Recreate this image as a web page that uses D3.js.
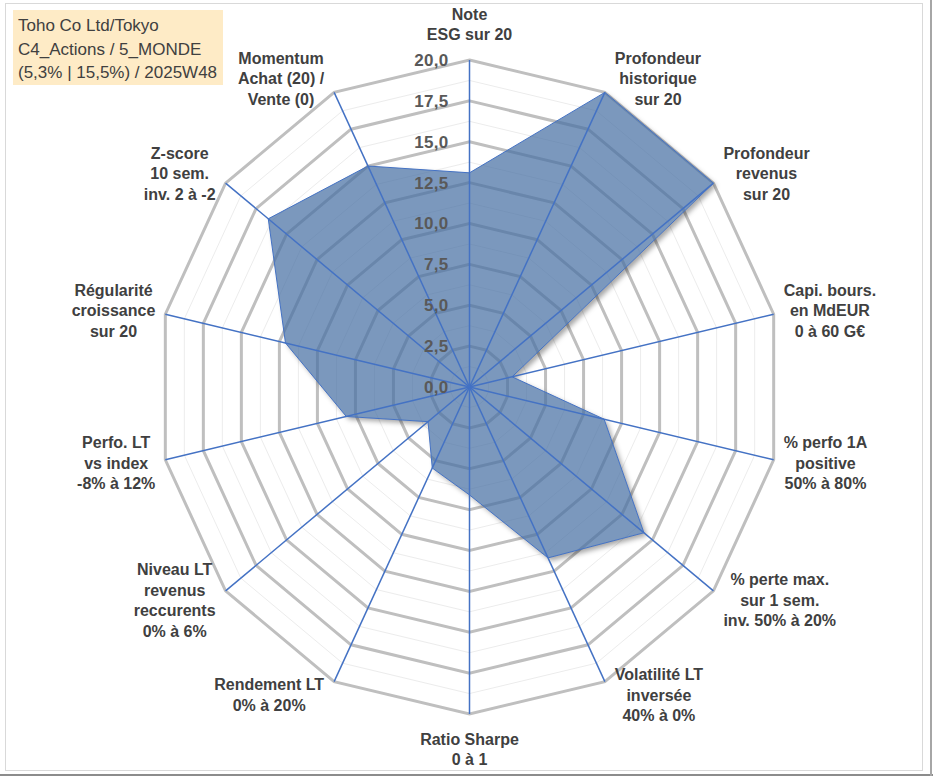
<!DOCTYPE html>
<html lang="fr">
<head>
    <meta charset="UTF-8">
    <title>Radar Toho Co Ltd</title>
    <script src="https://d3js.org/d3.v7.min.js"></script>
    <style>
        body { margin: 0; background: #fff; }
        svg { display: block; }
        .axis-label { font-family: "Liberation Sans", Arial, sans-serif; font-weight: bold; font-size: 16px; fill: #404040; }
        .tick-label { font-family: "Liberation Sans", Arial, sans-serif; font-weight: bold; font-size: 17px; fill: #595959; letter-spacing: 0.3px; }
        .title-text { font-family: "Liberation Sans", Arial, sans-serif; font-size: 17px; fill: #404040; }
    </style>
</head>
<body>
<div id="chart-container"></div>
<script>
    // axes du radar, dans le sens horaire depuis le haut
    const axisLabels = [
        ["Note", "ESG sur 20"],
        ["Profondeur", "historique", "sur 20"],
        ["Profondeur", "revenus", "sur 20"],
        ["Capi. bours.", "en MdEUR", "0 à 60 G€"],
        ["% perfo 1A", "positive", "50% à 80%"],
        ["% perte max.", "sur 1 sem.", "inv. 50% à 20%"],
        ["Volatilité LT", "inversée", "40% à 0%"],
        ["Ratio Sharpe", "0 à 1"],
        ["Rendement LT", "0% à 20%"],
        ["Niveau LT", "revenus", "reccurents", "0% à 6%"],
        ["Perfo. LT", "vs index", "-8% à 12%"],
        ["Régularité", "croissance", "sur 20"],
        ["Z-score", "10 sem.", "inv. 2 à -2"],
        ["Momentum", "Achat (20) /", "Vente (0)"]
    ];
    const scores = [13.1, 20, 20, 2.8, 8.85, 14.3, 11.6, 6.6, 5.5, 3.4, 8.1, 12.1, 16.5, 15.0];
    const majorTicks = [0, 2.5, 5, 7.5, 10, 12.5, 15, 17.5, 20];
    const minorTicks = [1.25, 3.75, 6.25, 8.75, 11.25, 13.75, 16.25, 18.75];
    const titleLines = ["Toho Co Ltd/Tokyo", "C4_Actions / 5_MONDE", "(5,3% | 15,5%) / 2025W48"];

    const containerWidth = 933;
    const containerHeight = 776;
    const cx = 469.5, cy = 387;

    const fr = d3.formatLocale({ decimal: ",", thousands: " ", grouping: [3], currency: ["", " €"] });
    const fmt = fr.format(".1f");

    const svg = d3.select("#chart-container")
        .append("svg")
        .attr("width", containerWidth)
        .attr("height", containerHeight);

    // scales (le graphique d'origine est un peu plus haut que large)
    const angle = d3.scaleLinear().domain([0, axisLabels.length]).range([0, 2 * Math.PI]);
    const rX = d3.scaleLinear().domain([0, 20]).range([0, 312]);
    const rY = d3.scaleLinear().domain([0, 20]).range([0, 327]);

    const px = (i, v) => cx + Math.sin(angle(i)) * rX(v);
    const py = (i, v) => cy - Math.cos(angle(i)) * rY(v);

    const idx = d3.range(axisLabels.length);
    const ringLine = v => d3.line()
        .x(i => px(i, v))
        .y(i => py(i, v))
        .curve(d3.curveLinearClosed)(idx);

    const area = d3.line()
        .x((d, i) => px(i, d))
        .y((d, i) => py(i, d))
        .curve(d3.curveLinearClosed);

    // ombre du polygone, masquée sous la surface pour ne pas l'assombrir
    const defs = svg.append("defs");
    const blur = defs.append("filter").attr("id", "blur")
        .attr("x", "-10%").attr("y", "-10%").attr("width", "130%").attr("height", "130%");
    blur.append("feGaussianBlur").attr("stdDeviation", 2.5);
    const mask = defs.append("mask").attr("id", "outside")
        .attr("maskUnits", "userSpaceOnUse")
        .attr("x", 0).attr("y", 0).attr("width", containerWidth).attr("height", containerHeight);
    mask.append("rect").attr("width", containerWidth).attr("height", containerHeight).attr("fill", "#fff");
    mask.append("path").datum(scores).attr("d", area).attr("fill", "#000");

    // cadre
    svg.append("rect")
        .attr("x", 5.5).attr("y", 3.5)
        .attr("width", 917).attr("height", 767)
        .attr("fill", "none").attr("stroke", "#d9d9d9");
    svg.append("line").attr("x1", 0).attr("x2", containerWidth).attr("y1", 775).attr("y2", 775)
        .attr("stroke", "#8c8c8c").attr("stroke-width", 2);
    svg.append("line").attr("x1", 931).attr("x2", 931).attr("y1", 0).attr("y2", containerHeight)
        .attr("stroke", "#a6a6a6").attr("stroke-width", 2);

    const g = svg.append("g");

    // grille secondaire
    g.selectAll(".minor-ring")
        .data(minorTicks)
        .enter()
        .append("path")
        .attr("class", "minor-ring")
        .attr("d", d => ringLine(d))
        .attr("fill", "none")
        .attr("stroke", "#ececec")
        .attr("stroke-width", 1);

    // grille principale
    g.selectAll(".major-ring")
        .data(majorTicks.filter(t => t > 0))
        .enter()
        .append("path")
        .attr("class", "major-ring")
        .attr("d", d => ringLine(d))
        .attr("fill", "none")
        .attr("stroke", "#bfbfbf")
        .attr("stroke-width", 3)
        .attr("stroke-linejoin", "miter");

    // série
    g.append("g")
        .attr("mask", "url(#outside)")
        .append("path")
        .datum(scores)
        .attr("d", area)
        .attr("transform", "translate(3,3)")
        .attr("fill", "#000")
        .attr("fill-opacity", 0.35)
        .attr("filter", "url(#blur)");

    g.append("path")
        .datum(scores)
        .attr("d", area)
        .attr("fill", "rgb(72,112,163)")
        .attr("fill-opacity", 0.72)
        .attr("stroke", "#4472c4")
        .attr("stroke-width", 1);

    // rayons
    g.selectAll(".spoke")
        .data(idx)
        .enter()
        .append("line")
        .attr("class", "spoke")
        .attr("x1", cx).attr("y1", cy)
        .attr("x2", i => px(i, 20))
        .attr("y2", i => py(i, 20))
        .attr("stroke", "#4472c4")
        .attr("stroke-width", 1.5);

    // étiquettes de graduation
    g.selectAll(".tick-label")
        .data(majorTicks)
        .enter()
        .append("text")
        .attr("class", "tick-label")
        .attr("x", cx - 21)
        .attr("y", d => cy - rY(d))
        .attr("dy", "0.35em")
        .attr("text-anchor", "end")
        .text(d => fmt(d));

    // étiquettes des axes
    const lh = 20.5;
    axisLabels.forEach(function(lines, i) {
        const a = angle(i);
        const s = Math.sin(a), c = Math.cos(a);
        const t = g.append("text").attr("class", "axis-label").attr("text-anchor", "middle");
        const spans = lines.map(l => t.append("tspan").text(l));
        const w = d3.max(spans, sp => sp.node().getComputedTextLength());
        const h = lines.length * lh;
        const vx = px(i, 20), vy = py(i, 20);
        let bx = vx, by = vy;
        if (Math.abs(s) < 0.01) {
            by = vy - Math.sign(c) * (15 + h / 2);
        } else {
            bx = vx + Math.sign(s) * (w / 2 + 10);
            by = vy - c * 15;
        }
        spans.forEach(function(sp, k) {
            sp.attr("x", bx)
              .attr("y", by + (k - (lines.length - 1) / 2) * lh)
              .attr("dy", "0.35em");
        });
    });

    // encadré titre
    svg.append("rect")
        .attr("x", 13).attr("y", 10)
        .attr("width", 210).attr("height", 75)
        .attr("fill", "#feebc6");
    svg.selectAll(".title-text")
        .data(titleLines)
        .enter()
        .append("text")
        .attr("class", "title-text")
        .attr("x", 18)
        .attr("y", (d, i) => 31 + i * 23.5)
        .text(d => d);
</script>
</body>
</html>
